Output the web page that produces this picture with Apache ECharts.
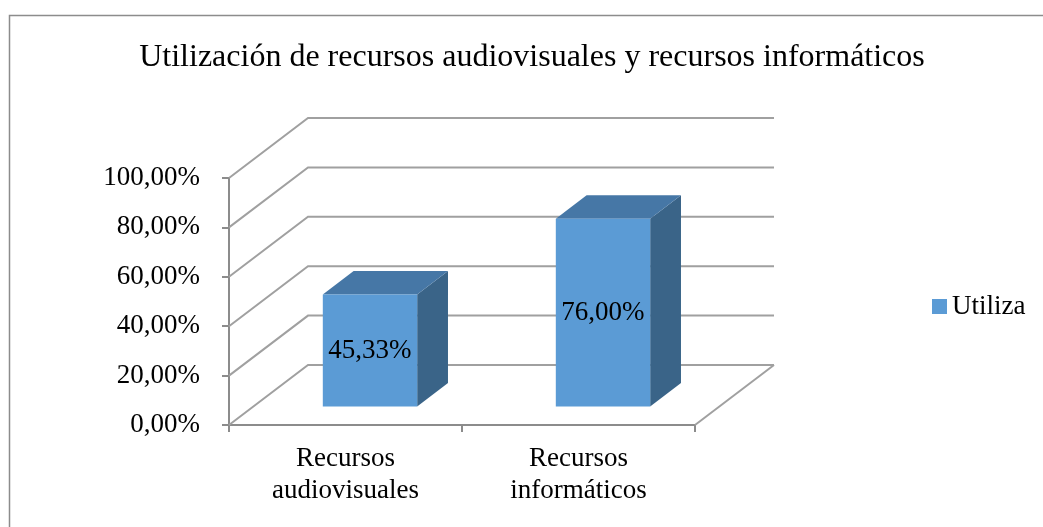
<!DOCTYPE html>
<html>
<head>
<meta charset="utf-8">
<script src="https://cdn.jsdelivr.net/npm/echarts@6/dist/echarts.min.js"></script>
<style>
  html, body { margin: 0; padding: 0; background: #fff; }
  #chart { width: 1043px; height: 527px; }
</style>
</head>
<body>
<div id="chart"></div>
<script>
const categories = ["Recursos\naudiovisuales", "Recursos\ninformáticos"];
const values = [45.33, 76.0];
const yTicks = [0, 20, 40, 60, 80, 100];
const seriesName = "Utiliza";

(() => {
  const FONT = "'Liberation Serif', 'Times New Roman', serif";
  // depth offset of back wall (px)
  const DX = 79, DY = -60;
  const F1 = 0.31, F2 = 0.7; // bar front / back depth
  const fmt = (v) => v.toFixed(2).replace(".", ",") + "%";

  let myChart = echarts.init(document.querySelector("#chart"));
  let option = {
    animation: false,
    title: {
      text: "Utilización de recursos audiovisuales y recursos informáticos",
      left: 532,
      top: 42,
      padding: 0,
      textAlign: "center",
      textStyle: { fontFamily: FONT, fontSize: 32, fontWeight: "normal", color: "#000" },
    },
    legend: {
      data: [{ name: seriesName, icon: "rect" }],
      left: 932,
      top: 293,
      padding: 0,
      itemWidth: 15,
      itemHeight: 15,
      itemGap: 6,
      textStyle: { fontFamily: FONT, fontSize: 27, color: "#000" },
    },
    graphic: [
      {
        type: "rect",
        shape: { x: 9.5, y: 15.5, width: 1100, height: 600 },
        style: { fill: "none", stroke: "#8c8c8c", lineWidth: 1.5 },
        silent: true,
      },
    ],
    grid: { left: 229, right: 348, top: 178, bottom: 102 },
    xAxis: {
      type: "category",
      data: categories,
      axisLine: { lineStyle: { color: "#8c8c8c", width: 2 } },
      axisTick: { show: true, length: 7, lineStyle: { color: "#8c8c8c", width: 2 } },
      axisLabel: { fontFamily: FONT, fontSize: 27, color: "#000", lineHeight: 32, margin: 18 },
    },
    yAxis: {
      type: "value",
      min: 0,
      max: 100,
      interval: 20,
      axisLine: { show: true, lineStyle: { color: "#8c8c8c", width: 2 } },
      axisTick: { show: true, length: 7, lineStyle: { color: "#8c8c8c", width: 2 } },
      splitLine: { show: false },
      axisLabel: { fontFamily: FONT, fontSize: 27, color: "#000", margin: 29, formatter: fmt },
    },
    series: [
      {
        // walls / floor
        type: "custom",
        silent: true,
        data: yTicks.map((v) => [0, v]),
        encode: { x: 0, y: 1 },
        renderItem: (params, api) => {
          const cs = params.coordSys;
          const y = api.coord([0, api.value(1)])[1];
          const x0 = cs.x, x1 = cs.x + cs.width;
          const style = { stroke: "#a0a0a0", lineWidth: 2, fill: null };
          const children = [
            { type: "polyline", shape: { points: [[x0, y], [x0 + DX, y + DY], [x1 + DX, y + DY]] }, style },
          ];
          if (api.value(1) === 0) {
            children.push({ type: "line", shape: { x1: x1, y1: y, x2: x1 + DX, y2: y + DY }, style });
          }
          return { type: "group", children };
        },
        z: 1,
      },
      {
        name: seriesName,
        type: "custom",
        data: values.map((v, i) => [i, v]),
        encode: { x: 0, y: 1 },
        itemStyle: { color: "#5b9bd5" },
        renderItem: (params, api) => {
          const i = api.value(0), v = api.value(1);
          const base = api.coord([i, 0]);
          const top = api.coord([i, v]);
          const bw = api.size([1, 0])[0] * 0.405;
          const cx = base[0] + DX * F1;
          const xa = cx - bw / 2, xb = cx + bw / 2;
          const yb = base[1] + DY * F1;
          const yt = top[1] + DY * F1;
          const ddx = DX * (F2 - F1), ddy = DY * (F2 - F1);
          return {
            type: "group",
            children: [
              {
                type: "polygon",
                shape: { points: [[xb, yt], [xb + ddx, yt + ddy], [xb + ddx, yb + ddy], [xb, yb]] },
                style: { fill: "#3a6488" },
              },
              {
                type: "polygon",
                shape: { points: [[xa, yt], [xb, yt], [xb + ddx, yt + ddy], [xa + ddx, yt + ddy]] },
                style: { fill: "#4677a6" },
              },
              {
                type: "rect",
                shape: { x: xa, y: yt, width: bw, height: yb - yt },
                style: { fill: "#5b9bd5" },
              },
              {
                type: "text",
                style: {
                  x: cx,
                  y: (yt + yb) / 2,
                  text: fmt(v),
                  align: "center",
                  verticalAlign: "middle",
                  fontFamily: FONT,
                  fontSize: 27,
                  fill: "#000",
                },
              },
            ],
          };
        },
        z: 2,
      },
    ],
  };
  myChart.setOption(option);
  window.addEventListener("resize", () => {
    myChart.resize();
  });
})();
</script>
</body>
</html>
